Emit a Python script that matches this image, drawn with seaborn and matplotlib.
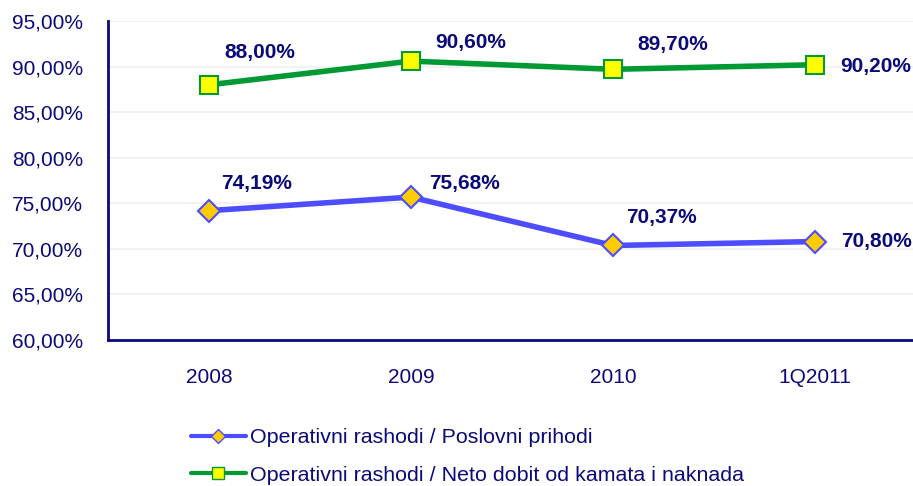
import matplotlib
matplotlib.use("Agg")
import matplotlib.pyplot as plt
import seaborn as sns
import pandas as pd
from matplotlib.lines import Line2D

categories = ["2008", "2009", "2010", "1Q2011"]
series1_name = "Operativni rashodi / Poslovni prihodi"
series1 = [74.19, 75.68, 70.37, 70.80]
series2_name = "Operativni rashodi / Neto dobit od kamata i naknada"
series2 = [88.00, 90.60, 89.70, 90.20]
yticks = [60, 65, 70, 75, 80, 85, 90, 95]

# label offsets in pixels (dx, dy) relative to each point
off1 = [(48, 27), (53, 14), (48, 28), (61, 0)]
off2 = [(51, 32), (60, 19), (60, 25), (61, -2)]

sns.set_theme(style="white")
plt.rcParams["font.family"] = ["Liberation Sans", "DejaVu Sans"]

navy = "#0a0a78"
blue = "#4d4dff"
green = "#009933"

fig = plt.figure(figsize=(9.13, 4.86), dpi=100)
ax = fig.add_axes([108 / 913, 1 - 340 / 486, 808 / 913, (340 - 21) / 486])

df1 = pd.DataFrame({"cat": categories, "val": series1})
df2 = pd.DataFrame({"cat": categories, "val": series2})

sns.lineplot(data=df1, x="cat", y="val", ax=ax, color=blue, lw=4, marker="D",
             markersize=11, markerfacecolor="#ffcc00", markeredgecolor=blue,
             markeredgewidth=1.5, sort=False, zorder=3)
sns.lineplot(data=df2, x="cat", y="val", ax=ax, color=green, lw=4, marker="s",
             markersize=13, markerfacecolor="#ffff00", markeredgecolor=green,
             markeredgewidth=1.5, sort=False, zorder=3)

def fmt(v):
    return f"{v:.2f}".replace(".", ",") + "%"

for i, (v, o) in enumerate(zip(series1, off1)):
    ax.annotate(fmt(v), (i, v), xytext=(o[0] * 0.72, o[1] * 0.72), textcoords="offset points",
                ha="center", va="center", fontsize=15, fontweight="bold", color=navy)
for i, (v, o) in enumerate(zip(series2, off2)):
    ax.annotate(fmt(v), (i, v), xytext=(o[0] * 0.72, o[1] * 0.72), textcoords="offset points",
                ha="center", va="center", fontsize=15, fontweight="bold", color=navy)

ax.set_xlim(-0.5, 3.5)
ax.set_ylim(60, 95)
ax.set_yticks(yticks)
ax.set_yticklabels([f"{t},00%" for t in yticks])
ax.set_xlabel("")
ax.set_ylabel("")
ax.grid(axis="y", color="#f2f2f2", lw=1.5)
ax.set_axisbelow(True)
ax.tick_params(axis="both", length=0, labelsize=15, colors=navy)
ax.tick_params(axis="y", pad=18)
ax.tick_params(axis="x", pad=20)
for s in ["top", "right"]:
    ax.spines[s].set_visible(False)
for s in ["left", "bottom"]:
    ax.spines[s].set_color(navy)
    ax.spines[s].set_linewidth(2)

handles = [
    Line2D([], [], color=blue, lw=3, marker="D", markersize=7,
           markerfacecolor="#ffcc00", markeredgecolor=blue),
    Line2D([], [], color=green, lw=3, marker="s", markersize=8,
           markerfacecolor="#ffff00", markeredgecolor=green),
]
leg = fig.legend(handles, [series1_name, series2_name], loc="upper left",
                 bbox_to_anchor=(191 / 913, 1 - 428 / 486), frameon=False,
                 fontsize=15.4, handlelength=2.55, handletextpad=0.2,
                 labelspacing=0.88, borderpad=0, borderaxespad=0)
for t in leg.get_texts():
    t.set_color(navy)

fig.savefig("out.png", dpi=100)
